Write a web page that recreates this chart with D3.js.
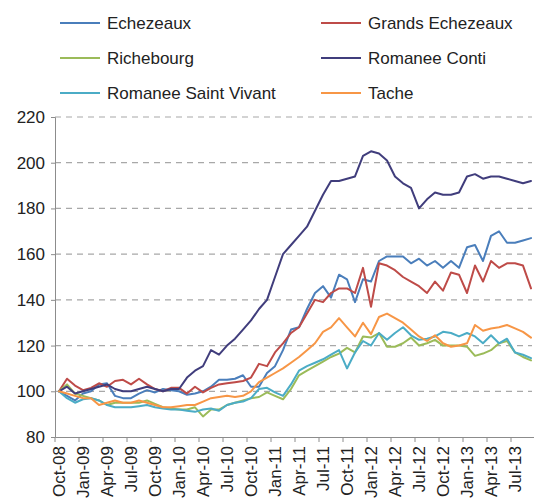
<!DOCTYPE html>
<html><head><meta charset="utf-8">
<script src="https://cdn.jsdelivr.net/npm/d3@7/dist/d3.min.js"></script>
<style>
html,body{margin:0;padding:0;background:#fff;}
svg{display:block;font-family:"Liberation Sans",Arial,sans-serif;}
</style></head>
<body><svg id="chart" width="534" height="501"></svg>
<script>
const months = ["Oct-08","Nov-08","Dec-08","Jan-09","Feb-09","Mar-09","Apr-09","May-09","Jun-09","Jul-09","Aug-09","Sep-09",
"Oct-09","Nov-09","Dec-09","Jan-10","Feb-10","Mar-10","Apr-10","May-10","Jun-10","Jul-10","Aug-10","Sep-10",
"Oct-10","Nov-10","Dec-10","Jan-11","Feb-11","Mar-11","Apr-11","May-11","Jun-11","Jul-11","Aug-11","Sep-11",
"Oct-11","Nov-11","Dec-11","Jan-12","Feb-12","Mar-12","Apr-12","May-12","Jun-12","Jul-12","Aug-12","Sep-12",
"Oct-12","Nov-12","Dec-12","Jan-13","Feb-13","Mar-13","Apr-13","May-13","Jun-13","Jul-13","Aug-13","Sep-13"];
const tickLabels = ["Oct-08","Jan-09","Apr-09","Jul-09","Oct-09","Jan-10","Apr-10","Jul-10","Oct-10","Jan-11",
"Apr-11","Jul-11","Oct-11","Jan-12","Apr-12","Jul-12","Oct-12","Jan-13","Apr-13","Jul-13"];
const yTicks = [80,100,120,140,160,180,200,220];

const echezeaux = [100,98,96,99,100,103,103.5,98,97,97, 99,100.5,99.5,101,100.5,100,98.5,99,100,102,
 105,105,105.5,107,102,102,108,111,118,127, 128,136,143,146,141,151,149,139,149,148,
 157,159,159,159,156,158,155,157,154,157, 154,163,164,157,168,170,165,165,166,167];
const grandsEchezeaux = [100,105.5,102.5,100.5,101.5,103.5,102,104.5,105,103, 105.5,103,101,100,101.5,101.5,99,102,99.5,101.5,
 103,103.5,104,104.5,106,112,111,117,121,125.5, 128,134,140,139,143,145,145,143,154,137,
 156,155,153,150,148,146,143,148,144,152, 151,143,155,148,157,154,156,156,155,145];
const richebourg = [100,103,99,98,97,96,94,95,95,95, 95,96,94.5,93,92.5,92,92,93,89,92,
 92,94,95,96,97,97.5,99.5,98,96.5,101, 107,109,111,113,115,116.5,119,117,124,123.5,
 125.5,119.5,119.5,121,123.5,120,121,122.5,120,120, 120,119.5,115.5,116.5,118,121,122,117,115,113.5];
const romaneeConti = [100,102,99,100,101,102,103,101,100,100, 101,102,101,100,101,101,106,109,111,118,
 116,120,123,127,131,136,140,150,160,164, 168,172,179,186,192,192,193,194,203,205,
 204,201,194,191,189,180,184,187,186,186, 187,194,195,193,194,194,193,192,191,192];
const romaneeSaintVivant = [100,97,95,96.5,97,96,94,93,93,93, 93.5,94,93,92.5,92,92,91.5,91,92,92.5,
 91.5,94,95,95.5,97,101,101.5,99.5,98,103, 109,111,112.5,114,116,118,110,117,122,120,
 125.5,122.5,125.5,128,124.5,122.5,123,124,126,125.5, 124,125.5,124,121,124.5,121,123,117,116,114.5];
const tache = [100,99,98,97,97,94,95,96,95,95, 96,95,94,93,93,93.5,94,94,95.5,97,
 97.5,98,97.5,98,100,104,106,108,110,112.5, 115,118,121,126,128,132,128,124,130,125,
 132.5,134,132,130,127,124,122,124.5,121,119.5, 120,121,129,126.5,127.5,128,129,127.5,126,123.5];

const seriesNames = ["Echezeaux","Grands Echezeaux","Richebourg","Romanee Conti","Romanee Saint Vivant","Tache"];
const seriesValues = [echezeaux, grandsEchezeaux, richebourg, romaneeConti, romaneeSaintVivant, tache];
const seriesColors = ["#4A7EBB","#BE4B48","#9BBB59","#403D7C","#4BACC6","#F79646"];

const svg = d3.select("#chart");
svg.append("rect").attr("width",534).attr("height",501).attr("fill","#fff");

const pL = 55, pR = 535, pT = 117, pB = 437;
const x = d3.scaleBand().domain(months).range([pL, pR]).padding(0);
const y = d3.scaleLinear().domain([80, 220]).range([pB, pT]);
const cx = m => x(m) + x.bandwidth()/2;

// gridlines
svg.append("g").selectAll("line").data(yTicks.filter(t => t > 80)).join("line")
  .attr("x1", pL).attr("x2", pR - 3)
  .attr("y1", d => y(d)).attr("y2", d => y(d))
  .attr("stroke", "#A8A8A8").attr("stroke-width", 1.2).attr("stroke-dasharray", "6,5");

// y axis
const yAxis = svg.append("g").attr("transform", `translate(${pL},0)`)
  .call(d3.axisLeft(y).tickValues(yTicks).tickSize(4).tickFormat(d3.format("d")));
yAxis.select(".domain").attr("stroke", "#8C8C8C");
yAxis.selectAll(".tick line").attr("stroke", "#8C8C8C");
yAxis.selectAll("text").attr("font-size", 17).attr("fill", "#222")
  .attr("font-family", '"Liberation Sans",Arial,sans-serif').attr("x", -10);

// x axis
const xAxis = svg.append("g").attr("transform", `translate(0,${pB})`)
  .call(d3.axisBottom(x).tickValues(tickLabels).tickSize(0));
xAxis.select(".domain").attr("stroke", "#8C8C8C");
xAxis.selectAll("text")
  .attr("font-size", 17).attr("fill", "#222").attr("font-family", '"Liberation Sans",Arial,sans-serif')
  .attr("text-anchor", "end").attr("transform", "rotate(-90)")
  .attr("x", -9).attr("y", 0).attr("dy", "0.36em");
// boundary tick marks every quarter
const boundaries = tickLabels.map(m => x(m)).concat([pR]);
svg.append("g").selectAll("line").data(boundaries).join("line")
  .attr("x1", d => d).attr("x2", d => d).attr("y1", pB).attr("y2", pB + 5)
  .attr("stroke", "#8C8C8C");

// lines
const line = d3.line().x((d, i) => cx(months[i])).y(d => y(d));
svg.append("g").selectAll("path").data(seriesValues).join("path")
  .attr("d", d => line(d)).attr("fill", "none")
  .attr("stroke", (d, i) => seriesColors[i]).attr("stroke-width", 2)
  .attr("stroke-linejoin", "round").attr("stroke-linecap", "round");

// legend
const legX = [60, 321], legY = [23, 58, 93];
const leg = svg.append("g").selectAll("g").data(seriesNames).join("g")
  .attr("transform", (d, i) => `translate(${legX[i % 2]},${legY[Math.floor(i / 2)]})`);
leg.append("line").attr("x1", 0).attr("x2", 40).attr("y1", 0).attr("y2", 0)
  .attr("stroke", (d, i) => seriesColors[i]).attr("stroke-width", 2);
leg.append("text").attr("x", 47).attr("y", 0).attr("dy", "0.35em")
  .attr("font-size", 17).attr("fill", "#222").text(d => d);
</script></body></html>
